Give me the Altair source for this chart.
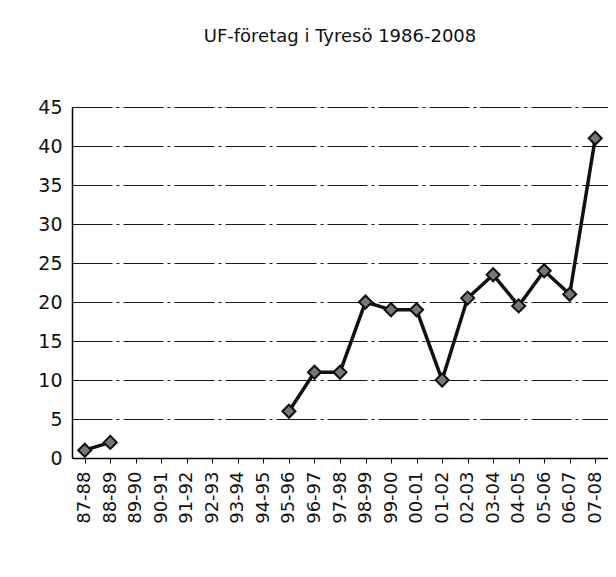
import altair as alt
import pandas as pd

seasons = ["87-88", "88-89", "89-90", "90-91", "91-92", "92-93", "93-94",
           "94-95", "95-96", "96-97", "97-98", "98-99", "99-00", "00-01",
           "01-02", "02-03", "03-04", "04-05", "05-06", "06-07", "07-08"]
counts = [1, 2, None, None, None, None, None,
          None, 6, 11, 11, 20, 19, 19,
          10, 20.5, 23.5, 19.5, 24, 21, 41]

segments = []
seg = 0
prev = None
for v in counts:
    if v is not None and prev is None:
        seg += 1
    segments.append(seg if v is not None else None)
    prev = v

df = pd.DataFrame({"season": seasons, "count": counts, "seg": segments})
df_valid = df.dropna()

FONT = "DejaVu Sans"

x = alt.X("season:N", scale=alt.Scale(domain=seasons, paddingOuter=0.5),
          sort=seasons,
          axis=alt.Axis(title=None, labelAngle=-90, labelFontSize=18,
                        labelFont=FONT, labelColor="#111", labelPadding=8,
                        tickSize=5, tickColor="#000", domainColor="#000",
                        domainWidth=1.5, grid=False))
y = alt.Y("count:Q", scale=alt.Scale(domain=[0, 45], nice=False),
          axis=alt.Axis(title=None, values=list(range(0, 46, 5)),
                        labelFontSize=19, labelFont=FONT, labelColor="#111",
                        labelPadding=10, tickSize=0, domainColor="#000",
                        domainWidth=1.5, gridColor="#000", gridWidth=1.2,
                        gridOpacity=0.9, gridDash=[40, 4, 3, 4]))

line = alt.Chart(df_valid).mark_line(color="#111", strokeWidth=3.5).encode(
    x=x, y=y, detail="seg:N")
pts = alt.Chart(df_valid).mark_point(shape="diamond", filled=True, size=170,
                                     color="#777", stroke="#111",
                                     strokeWidth=2, opacity=1).encode(x=x, y=y)

chart = (line + pts).properties(
    width=536, height=351,
    title=alt.TitleParams("UF-företag i Tyresö 1986-2008", font=FONT,
                          fontSize=18, fontWeight="normal", color="#111",
                          anchor="middle", offset=52),
    autosize=alt.AutoSizeParams(type="none"),
    padding={"left": 64, "top": 99, "right": 0, "bottom": 110},
).configure_view(stroke="#000", strokeWidth=1.5).configure(background="white")

chart.save("out.html", embed_options={"renderer": "svg", "actions": False})
